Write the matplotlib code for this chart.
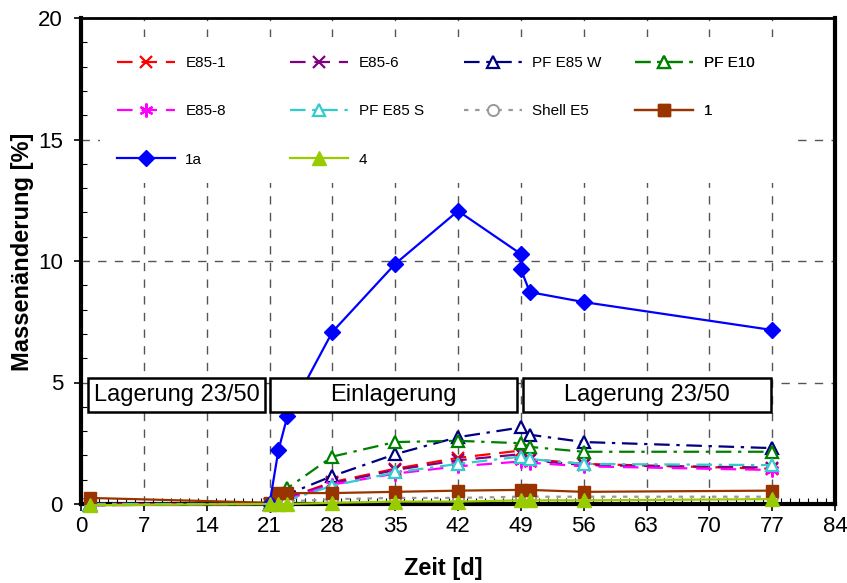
import matplotlib
matplotlib.use("Agg")
import matplotlib.pyplot as plt
from matplotlib.patches import Rectangle

plt.rcParams['font.family'] = ['Liberation Sans', 'DejaVu Sans']

days = [1, 21, 22, 23, 28, 35, 42, 49, 50, 56, 77]
days_1a = [21, 22, 23, 28, 35, 42, 49, 49, 50, 56, 77]

e85_1 = [0.0, 0.0, 0.15, 0.25, 0.9, 1.45, 1.9, 2.2, 1.85, 1.65, 1.45]
e85_6 = [0.0, 0.0, 0.15, 0.25, 0.85, 1.4, 1.8, 2.05, 1.8, 1.6, 1.5]
pf_e85_w = [-0.05, 0.0, 0.2, 0.4, 1.15, 2.05, 2.75, 3.15, 2.85, 2.55, 2.3]
pf_e10 = [0.0, 0.0, 0.3, 0.65, 1.95, 2.55, 2.6, 2.5, 2.35, 2.15, 2.15]
e85_8 = [-0.05, 0.0, 0.15, 0.2, 0.8, 1.25, 1.55, 1.75, 1.7, 1.55, 1.4]
pf_e85_s = [0.0, 0.0, 0.1, 0.15, 0.75, 1.3, 1.65, 1.95, 1.85, 1.65, 1.6]
shell_e5 = [0.0, 0.0, 0.05, 0.1, 0.2, 0.25, 0.25, 0.3, 0.3, 0.3, 0.3]
s1 = [0.25, 0.05, 0.45, 0.45, 0.45, 0.5, 0.55, 0.58, 0.58, 0.5, 0.55]
s1a = [0.0, 2.22, 3.62, 7.08, 9.88, 12.06, 10.29, 9.67, 8.72, 8.31, 7.16]
s4 = [-0.05, 0.0, 0.0, 0.0, 0.05, 0.1, 0.1, 0.15, 0.15, 0.15, 0.2]

phase_labels = ["Lagerung 23/50", "Einlagerung", "Lagerung 23/50"]
phase_bounds = [(0.8, 20.55), (21.1, 48.55), (49.2, 76.9)]

xticks = list(range(0, 85, 7))
yticks = [0, 5, 10, 15, 20]

fig = plt.figure(figsize=(8.47, 5.83), dpi=100)
ax = fig.add_axes([81/847, 1-504/583, (835-81)/847, (504-18)/583])
ax.set_xlim(0, 84)
ax.set_ylim(0, 20)
ax.set_axisbelow(True)

ax.grid(True, which='major', color='#555555', linestyle=(0, (6, 6)), linewidth=1.0)

ax.set_xticks(xticks)
ax.set_yticks(yticks)
ax.set_xticks(range(0, 85, 1), minor=True)
ax.set_yticks(range(0, 21, 1), minor=True)
ax.tick_params(axis='both', which='major', direction='out', length=5, width=1.2, labelsize=16, pad=4)
ax.tick_params(axis='y', which='major', pad=8)
ax.tick_params(axis='both', which='minor', direction='in', length=4, width=0.8)
for s in ax.spines.values():
    s.set_linewidth(3)
ax.spines['top'].set_linewidth(2)

# white legend background covering the grid
ax.add_patch(Rectangle((2.15, 13.2), 77.2, 6.0, facecolor='white', edgecolor='none', zorder=1.5))

lw = 1.6
ms = 9
series = [
    ("E85-1", days, e85_1, dict(color='#FF0000', linestyle=(0, (7, 4)), marker='x', markersize=ms, mew=1.6)),
    ("E85-6", days, e85_6, dict(color='#800080', linestyle=(0, (7, 4)), marker='x', markersize=ms, mew=1.6)),
    ("PF E85 W", days, pf_e85_w, dict(color='#000080', linestyle=(0, (7, 3, 1.5, 3)), marker='^', markersize=ms, mfc='white', mew=1.6)),
    ("PF E10", days, pf_e10, dict(color='#008000', linestyle=(0, (7, 3, 1.5, 3)), marker='^', markersize=ms, mfc='white', mew=1.6)),
    ("E85-8", days, e85_8, dict(color='#FF00FF', linestyle=(0, (7, 4)), marker=(6, 2, 0), markersize=ms + 1, mew=1.6)),
    ("PF E85 S", days, pf_e85_s, dict(color='#33CCCC', linestyle=(0, (7, 3, 1.5, 3)), marker='^', markersize=ms, mfc='white', mew=1.6)),
    ("Shell E5", days, shell_e5, dict(color='#999999', linestyle=(0, (2, 3)), marker='o', markersize=ms - 1, mfc='white', mew=1.4)),
    ("1", days, s1, dict(color='#993300', linestyle='-', marker='s', markersize=ms)),
    ("1a", days_1a, s1a, dict(color='#0000FF', linestyle='-', marker='D', markersize=ms - 1)),
    ("4", days, s4, dict(color='#99CC00', linestyle='-', marker='^', markersize=ms + 1)),
]

handles = {}
for name, xs, ys, st in series:
    h, = ax.plot(xs, ys, linewidth=lw, label=name, zorder=3, clip_on=False, **st)
    handles[name] = h

# phase boxes
for (x0, x1), lab in zip(phase_bounds, phase_labels):
    ax.add_patch(Rectangle((x0, 3.79), x1 - x0, 1.4, facecolor='white', edgecolor='black',
                           linewidth=1.8, zorder=5))
    ax.text((x0 + x1) / 2, 3.79 + 0.7, lab, ha='center', va='center', fontsize=17, zorder=6)

# legend: 4 columns placed individually
columns = [["E85-1", "E85-8", "1a"], ["E85-6", "PF E85 S", "4"],
           ["PF E85 W", "Shell E5"], ["PF E10", "1"]]
col_x = [121.5, 295, 468.5, 640]
for cx, names in zip(col_x, columns):
    leg = ax.legend([handles[n] for n in names], names, loc='upper left',
                    bbox_to_anchor=((cx - 81 - 5) / (835 - 81), (504 - 56) / (504 - 18)),
                    frameon=False, fontsize=11, handlelength=3.8, handletextpad=0.7,
                    labelspacing=2.25, borderpad=0, borderaxespad=0)
    ax.add_artist(leg)

ax.set_xlabel("Zeit [d]", fontsize=17, fontweight='bold')
ax.set_ylabel("Massenänderung [%]", fontsize=17, fontweight='bold')
ax.xaxis.set_label_coords((443 - 81) / (835 - 81), -(568 - 504) / (504 - 18))
ax.xaxis.label.set_va('center')
ax.yaxis.set_label_coords(-(81 - 22) / (835 - 81), (504 - 252) / (504 - 18))
ax.yaxis.label.set_va('center')

fig.savefig("out.png", dpi=100)
